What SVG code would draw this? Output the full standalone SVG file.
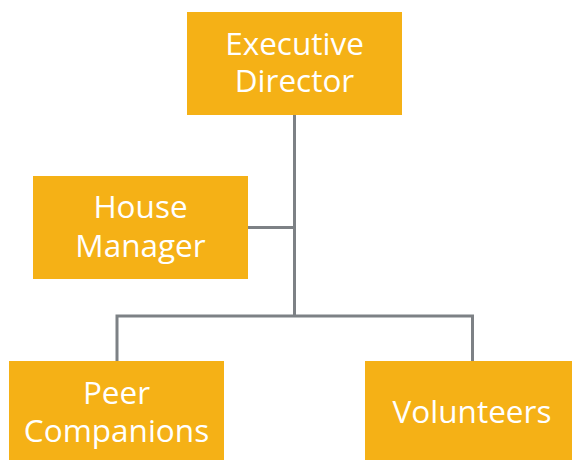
<svg xmlns="http://www.w3.org/2000/svg" width="572" height="460" viewBox="0 0 572 460">
<style>
.box{fill:#F5B116}
.t{font-family:"Open Sans","Noto Sans","Liberation Sans",sans-serif;font-size:31.5px;fill:#FFFFFF;text-anchor:middle}
.c{stroke:#7D8185;stroke-width:3;fill:none}
</style>
<rect width="572" height="460" fill="#FFFFFF"/>
<g id="connectors">
<path class="c" d="M294.5 114V316.5"/>
<path class="c" d="M248 227.5H294.5"/>
<path class="c" d="M117 361V316H472.5V361"/>
</g>
<g id="executive-director">
<rect class="box" x="187" y="12" width="215" height="103"/>
<text class="t" x="294.5" y="55">Executive</text>
<text class="t" x="294.5" y="92">Director</text>
</g>
<g id="house-manager">
<rect class="box" x="33" y="176" width="215" height="103"/>
<text class="t" x="140.5" y="218">House</text>
<text class="t" x="140.5" y="256.5">Manager</text>
</g>
<g id="peer-companions">
<rect class="box" x="9" y="361" width="215" height="99"/>
<text class="t" x="116.5" y="404">Peer</text>
<text class="t" x="116.5" y="441.5">Companions</text>
</g>
<g id="volunteers">
<rect class="box" x="365" y="361" width="207" height="99"/>
<text class="t" x="472" y="423">Volunteers</text>
</g>
</svg>
